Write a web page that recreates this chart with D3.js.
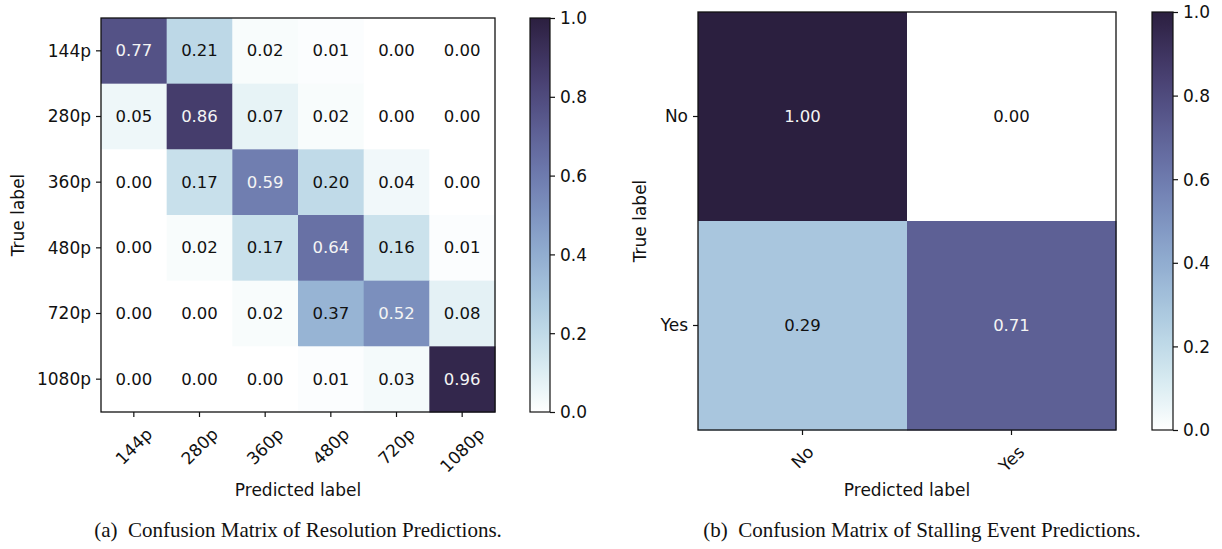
<!DOCTYPE html>
<html><head><meta charset="utf-8">
<script src="https://cdn.jsdelivr.net/npm/d3@7"></script>
<style>
html,body{margin:0;padding:0;background:#fff;}
svg{display:block;}
.tick text{font-family:"DejaVu Sans",sans-serif;font-size:17px;fill:#111;}
</style></head><body>
<svg id="chart" width="1222" height="549"></svg>
<script>
// ---- data ----
const resLabels = ["144p","280p","360p","480p","720p","1080p"];
const resMatrix = [
  [0.77,0.21,0.02,0.01,0.00,0.00],
  [0.05,0.86,0.07,0.02,0.00,0.00],
  [0.00,0.17,0.59,0.20,0.04,0.00],
  [0.00,0.02,0.17,0.64,0.16,0.01],
  [0.00,0.00,0.02,0.37,0.52,0.08],
  [0.00,0.00,0.00,0.01,0.03,0.96]
];
const stallLabels = ["No","Yes"];
const stallMatrix = [
  [1.00,0.00],
  [0.29,0.71]
];
const colorbarTicks = [0.0,0.2,0.4,0.6,0.8,1.0];
const captions = ["(a)\u2002Confusion Matrix of Resolution Predictions.","(b)\u2002Confusion Matrix of Stalling Event Predictions."];

// ---- colormap (seaborn-style cubehelix, start=.25, rot=-.25, light=1, dark=.15) ----
function cubehelix(t){
  const start=0.25, rot=-0.25, hue=0.8, light=1.0, dark=0.15;
  const x = light + (dark-light)*t;
  const a = hue*x*(1-x)/2;
  const phi = 2*Math.PI*(start/3 + rot*x);
  const c = Math.cos(phi), s = Math.sin(phi);
  const clamp = v => Math.max(0, Math.min(1, v));
  const r = clamp(x + a*(-0.14861*c + 1.78277*s));
  const g = clamp(x + a*(-0.29227*c - 0.90649*s));
  const b = clamp(x + a*(1.97294*c));
  return d3.rgb(r*255, g*255, b*255).formatHex();
}
const color = d3.scaleSequential(cubehelix).domain([0,1]);

const svg = d3.select("#chart");
const font = '"DejaVu Sans",sans-serif';
const defs = svg.append("defs");
const grad = defs.append("linearGradient").attr("id","cbgrad")
  .attr("x1","0").attr("y1","1").attr("x2","0").attr("y2","0");
d3.range(0,1.0001,0.02).forEach(t=>{
  grad.append("stop").attr("offset",t).attr("stop-color",color(t));
});

function drawMatrix(cfg){
  const {labels, matrix, x0, y0, size, cbX, cbW, titleX, xlabelY, caption, captionX} = cfg;
  const g = svg.append("g");
  const xs = d3.scaleBand().domain(labels).range([x0, x0+size]);
  const ys = d3.scaleBand().domain(labels).range([y0, y0+size]);
  const maxV = d3.max(matrix.flat()), minV = d3.min(matrix.flat());
  const thresh = (maxV+minV)/2;
  const cells = [];
  matrix.forEach((row,i)=>row.forEach((v,j)=>cells.push({i,j,v})));
  g.selectAll("rect.cell").data(cells).join("rect")
    .attr("x",d=>xs(labels[d.j])).attr("y",d=>ys(labels[d.i]))
    .attr("width",xs.bandwidth()+0.5).attr("height",ys.bandwidth()+0.5)
    .attr("fill",d=>color(d.v));
  g.selectAll("text.val").data(cells).join("text")
    .attr("x",d=>xs(labels[d.j])+xs.bandwidth()/2)
    .attr("y",d=>ys(labels[d.i])+ys.bandwidth()/2)
    .attr("text-anchor","middle").attr("dominant-baseline","central")
    .style("font-family",font).style("font-size","16.5px")
    .attr("fill",d=>d.v>=thresh?"#f4f4f4":"#111")
    .text(d=>d.v.toFixed(2));
  // frame
  g.append("rect").attr("x",x0).attr("y",y0).attr("width",size).attr("height",size)
    .attr("fill","none").attr("stroke","#111").attr("stroke-width",1.3);
  // axes
  const ax = g.append("g").attr("transform",`translate(0,${y0+size})`)
    .call(d3.axisBottom(xs).tickSize(5).tickPadding(5));
  ax.select(".domain").remove();
  ax.selectAll(".tick line").attr("stroke","#111").attr("stroke-width",1.2);
  ax.selectAll(".tick text").each(function(){
    const t = d3.select(this);
    t.attr("y",0).attr("dy",null);
    const w = this.getComputedTextLength();
    const h = 17;
    const cy = 13 + (w+h)/(2*Math.SQRT2);
    t.attr("text-anchor","middle").attr("dominant-baseline","central")
      .attr("transform",`translate(0,${cy}) rotate(-45)`);
  });
  const ay = g.append("g").attr("transform",`translate(${x0},0)`)
    .call(d3.axisLeft(ys).tickSize(5).tickPadding(5));
  ay.select(".domain").remove();
  ay.selectAll(".tick line").attr("stroke","#111").attr("stroke-width",1.2);
  ay.selectAll(".tick text").attr("dy","0.35em");
  // titles
  g.append("text").attr("x",x0+size/2).attr("y",xlabelY).attr("text-anchor","middle")
    .style("font-family",font).style("font-size","17px").attr("fill","#111").text("Predicted label");
  g.append("text").attr("transform",`translate(${titleX},${y0+size/2}) rotate(-90)`)
    .attr("text-anchor","middle").attr("dominant-baseline","central")
    .style("font-family",font).style("font-size","17px").attr("fill","#111").text("True label");
  // colorbar
  g.append("rect").attr("x",cbX).attr("y",y0).attr("width",cbW).attr("height",size)
    .attr("fill","url(#cbgrad)").attr("stroke","#111").attr("stroke-width",1.2);
  const cs = d3.scaleLinear().domain([0,1]).range([y0+size,y0]);
  const ac = g.append("g").attr("transform",`translate(${cbX+cbW},0)`)
    .call(d3.axisRight(cs).tickValues(colorbarTicks).tickFormat(d3.format(".1f")).tickSize(5).tickPadding(5));
  ac.select(".domain").remove();
  ac.selectAll(".tick line").attr("stroke","#111").attr("stroke-width",1.2);
  ac.selectAll(".tick text").attr("dy","0.35em");
  // caption
  g.append("text").attr("x",captionX).attr("y",537).attr("text-anchor","middle")
    .style("font-family",'"Liberation Serif","Times New Roman",serif').style("font-size","21px")
    .attr("fill","#111").text(caption);
}

drawMatrix({labels:resLabels, matrix:resMatrix, x0:101, y0:18, size:394, cbX:530, cbW:20,
  titleX:18, xlabelY:496, caption:captions[0], captionX:298});
drawMatrix({labels:stallLabels, matrix:stallMatrix, x0:698, y0:12, size:418, cbX:1152, cbW:21,
  titleX:640, xlabelY:496, caption:captions[1], captionX:922});
</script>
</body></html>
